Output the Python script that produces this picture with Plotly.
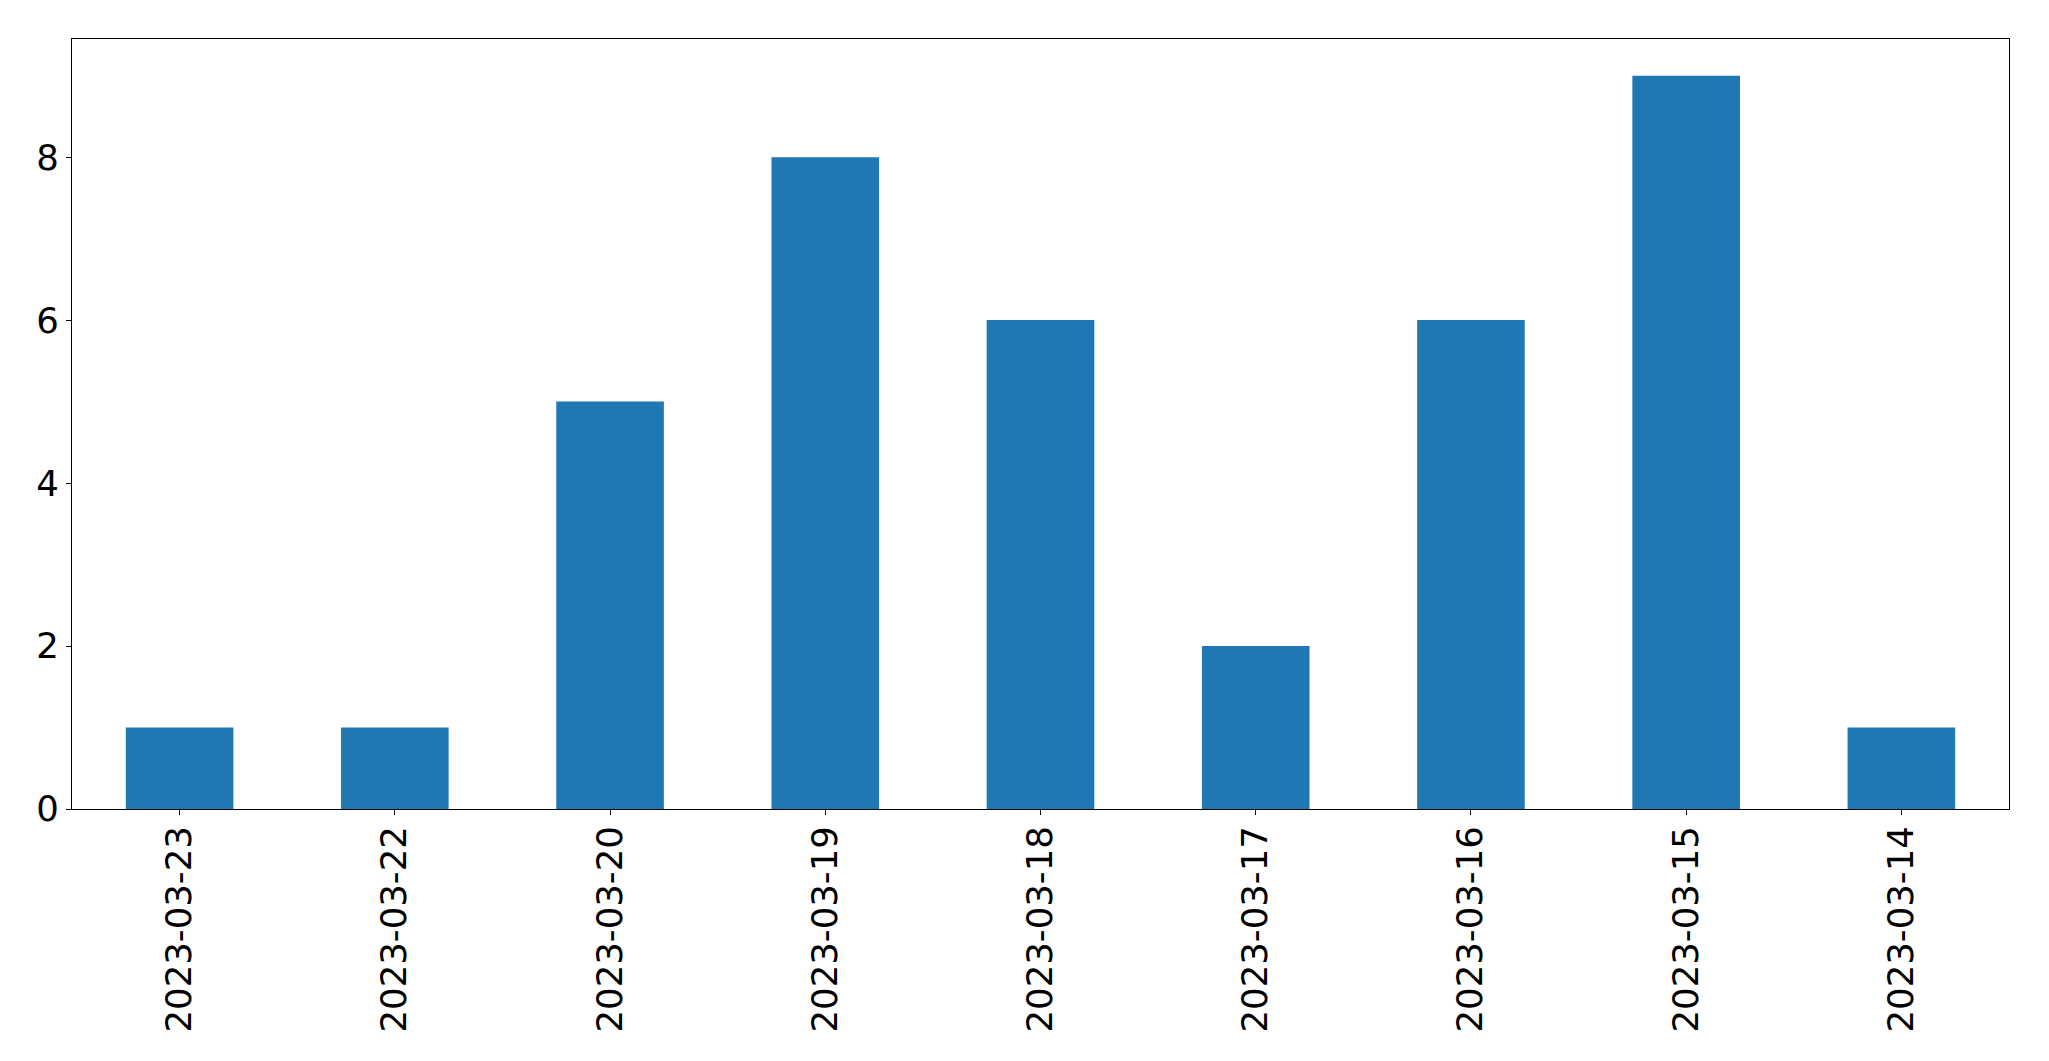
import plotly.graph_objects as go

dates = ["2023-03-23", "2023-03-22", "2023-03-20", "2023-03-19", "2023-03-18",
         "2023-03-17", "2023-03-16", "2023-03-15", "2023-03-14"]
counts = [1, 1, 5, 8, 6, 2, 6, 9, 1]
y_ticks = [0, 2, 4, 6, 8]

fig = go.Figure(go.Bar(x=dates, y=counts, marker=dict(color="#1f77b4", line=dict(width=0))))

fig.update_layout(
    width=2041, height=1053,
    margin=dict(l=64, r=40, t=31, b=252),
    plot_bgcolor="white", paper_bgcolor="white",
    font=dict(family="DejaVu Sans", size=35.5, color="black"),
    bargap=0.5,
    showlegend=False,
)
fig.update_xaxes(
    type="category", range=[-0.5, len(dates) - 0.5],
    tickangle=-90, showline=True, linecolor="black", linewidth=1, mirror=True,
    ticks="outside", ticklen=5, tickwidth=1, tickcolor="black",
    showgrid=False, zeroline=False, ticklabelstandoff=-3,
)
fig.update_yaxes(
    range=[0, 9.45], tickvals=y_ticks,
    showline=True, linecolor="black", linewidth=1, mirror=True,
    ticks="outside", ticklen=5, tickwidth=1, tickcolor="black",
    showgrid=False, zeroline=False,
)
fig.write_html("out.html")
